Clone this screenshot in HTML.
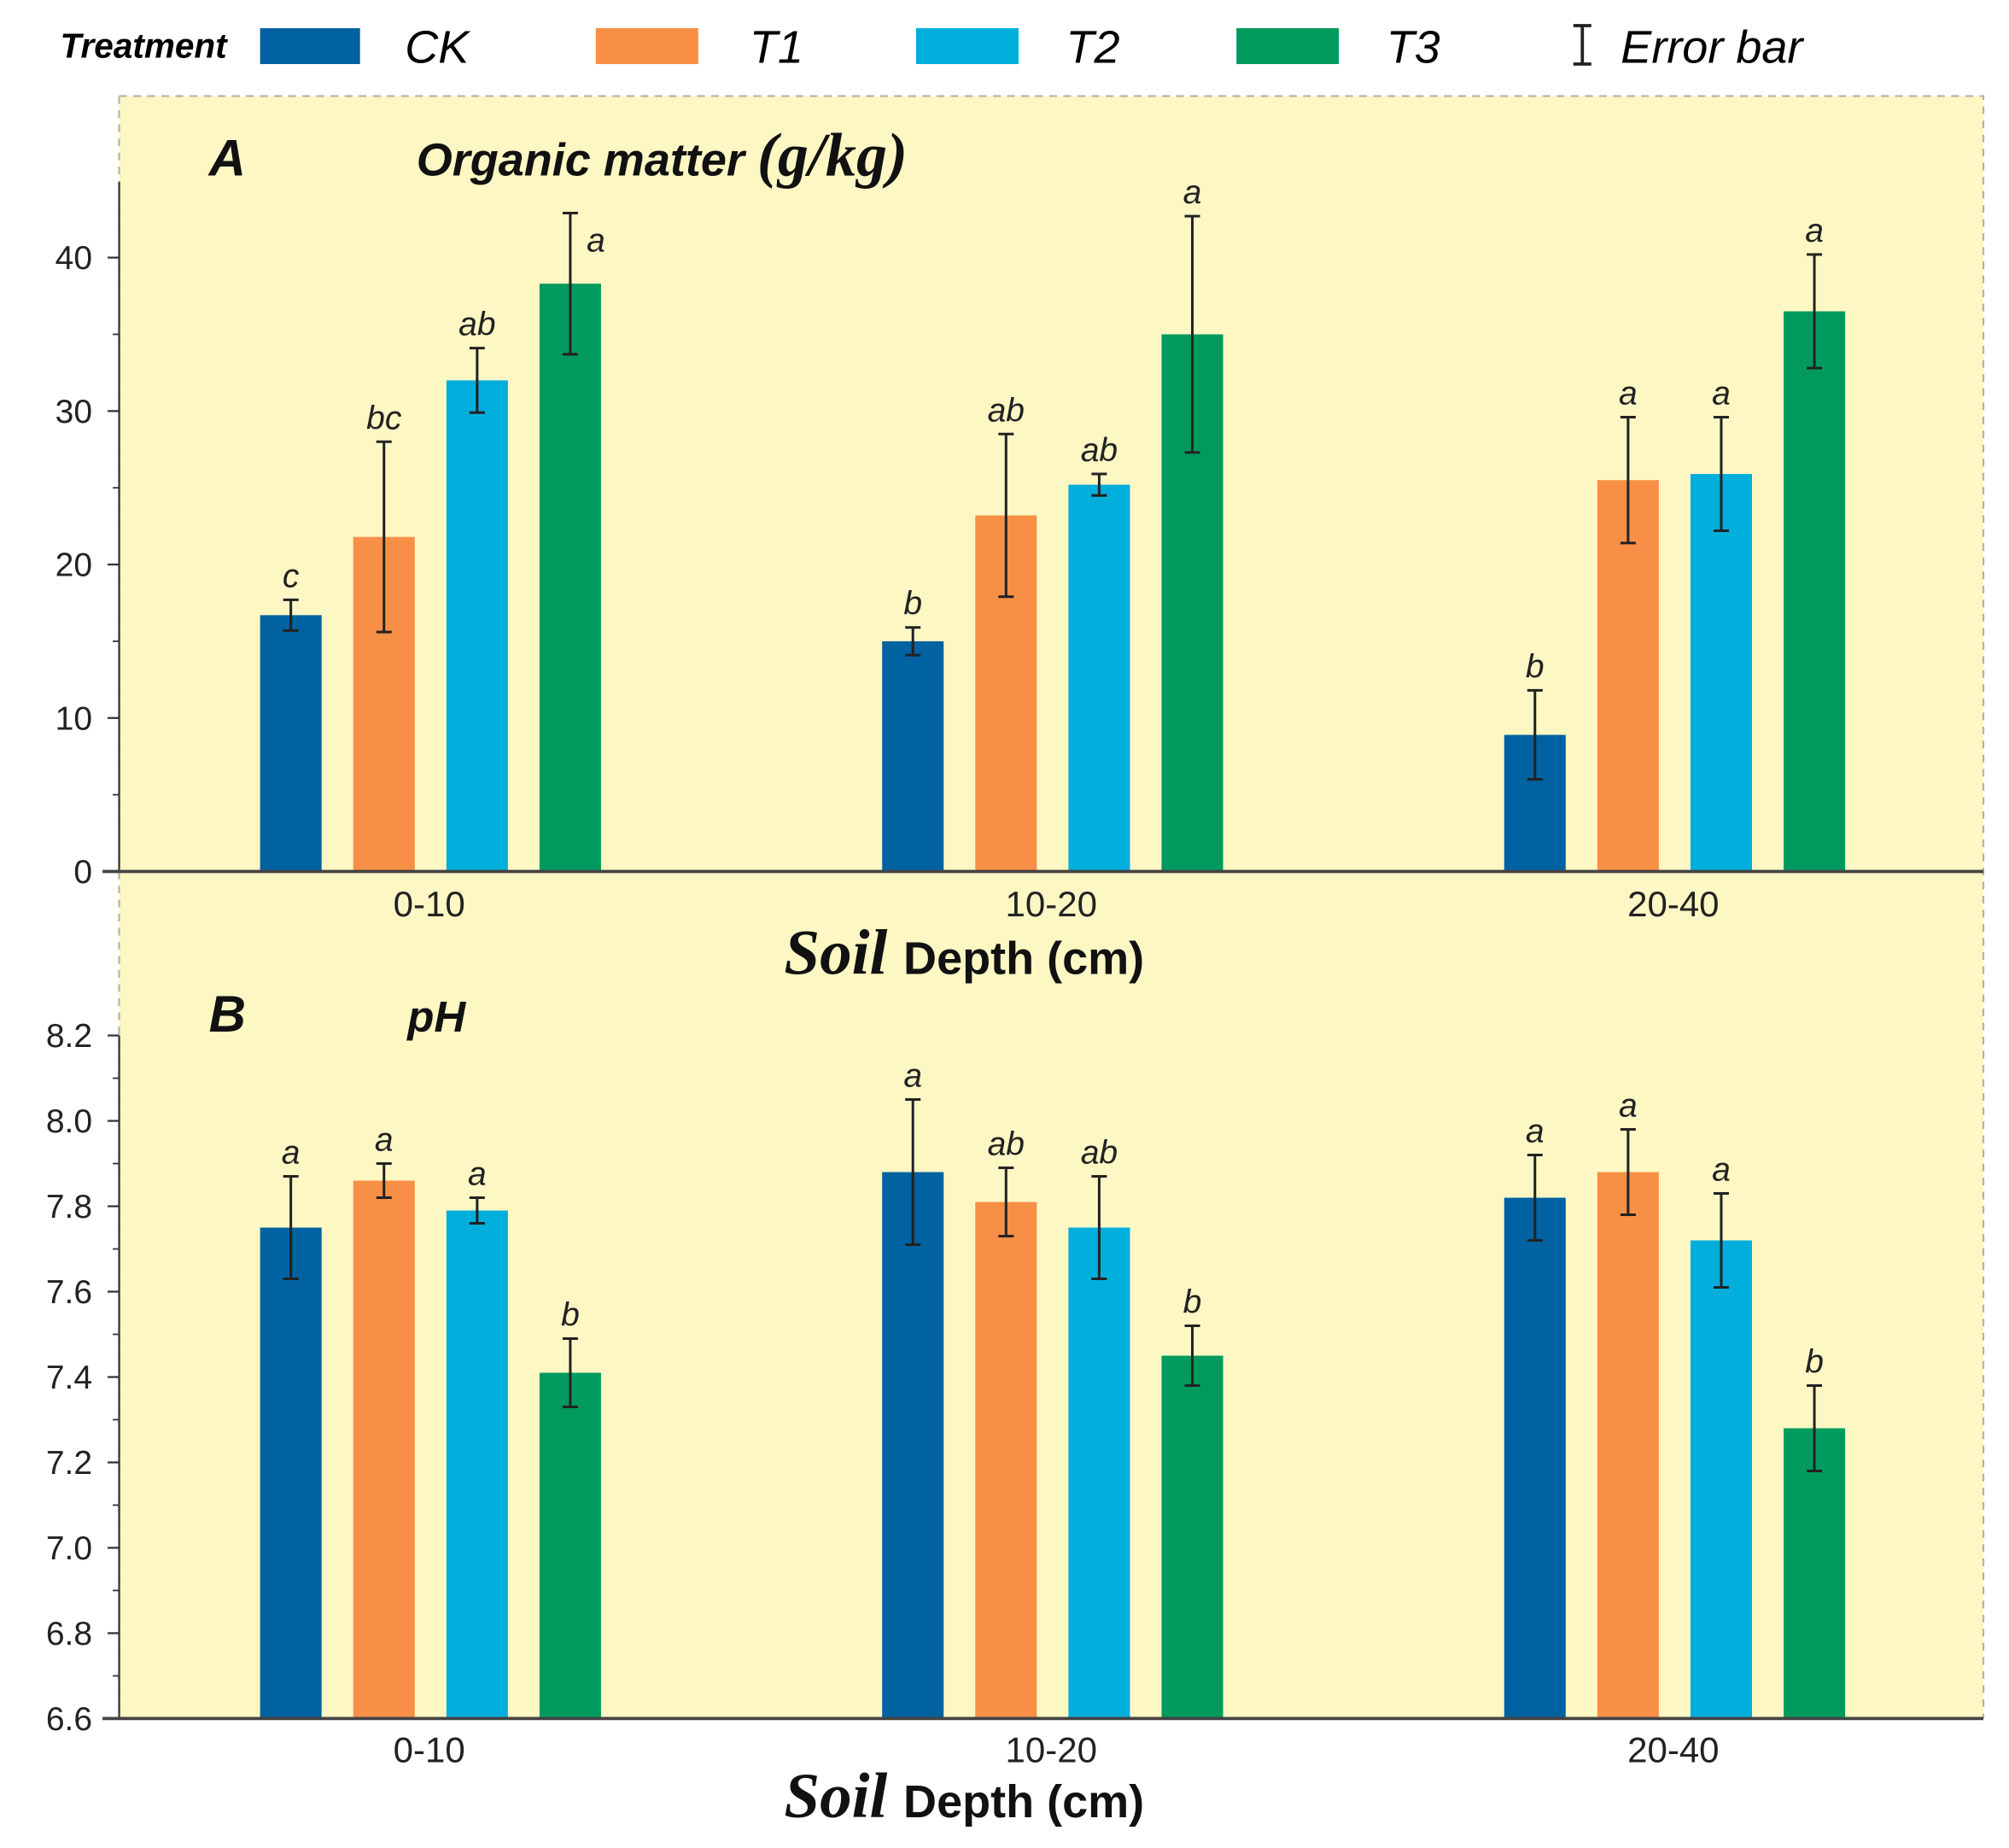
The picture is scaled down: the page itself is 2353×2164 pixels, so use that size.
<!DOCTYPE html>
<html><head><meta charset="utf-8"><style>
html,body{margin:0;padding:0;background:#fff;}
svg{display:block;}
text{font-family:"Liberation Sans",sans-serif;}
</style></head><body>
<svg id="chart" width="2353" height="2164" viewBox="0 0 1568 1442" preserveAspectRatio="none" xmlns="http://www.w3.org/2000/svg">
<rect x="93" y="75" width="1455" height="1266" fill="#fdf7c4"/>
<path d="M93 75 H1548 V1341 M93 75 V1341" fill="none" stroke="#b9b4a0" stroke-width="1.5" stroke-dasharray="6,5"/>
<g>
<text x="47" y="45" font-family="Liberation Serif,serif" font-style="italic" font-weight="bold" font-size="27">Treatment</text>
<rect x="203" y="22" width="78" height="28" fill="#0062a0"/>
<text x="316" y="49" font-style="italic" font-size="36">CK</text>
<rect x="465" y="22" width="80" height="28" fill="#f79046"/>
<text x="585" y="49" font-style="italic" font-size="36">T1</text>
<rect x="715" y="22" width="80" height="28" fill="#00aedc"/>
<text x="832" y="49" font-style="italic" font-size="36">T2</text>
<rect x="965" y="22" width="80" height="28" fill="#009a5e"/>
<text x="1082" y="49" font-style="italic" font-size="36">T3</text>
<path d="M1228 20H1242M1235 20V50M1228 50H1242" stroke="#222" stroke-width="2.5" fill="none"/>
<text x="1265" y="49" font-style="italic" font-size="36">Error bar</text>
</g>
<g id="panelA"></g>
<g id="panelB"></g>
</svg>
<script>
const categories = ["0-10", "10-20", "20-40"];
const series = ["CK", "T1", "T2", "T3"];
const colors = ["#0062a0", "#f79046", "#00aedc", "#009a5e"];
const omCK = [16.7, 15.0, 8.9];
const omT1 = [21.8, 23.2, 25.5];
const omT2 = [32.0, 25.2, 25.9];
const omT3 = [38.3, 35.0, 36.5];
const omErrCK = [1.0, 0.9, 2.9];
const omErrT1 = [6.2, 5.3, 4.1];
const omErrT2 = [2.1, 0.7, 3.7];
const omErrT3 = [4.6, 7.7, 3.7];
const omLetters = [["c","b","b"],["bc","ab","a"],["ab","ab","a"],["a","a","a"]];
const omTicks = [0, 10, 20, 30, 40];
const phCK = [7.75, 7.88, 7.82];
const phT1 = [7.86, 7.81, 7.88];
const phT2 = [7.79, 7.75, 7.72];
const phT3 = [7.41, 7.45, 7.28];
const phErrCK = [0.12, 0.17, 0.10];
const phErrT1 = [0.04, 0.08, 0.10];
const phErrT2 = [0.03, 0.12, 0.11];
const phErrT3 = [0.08, 0.07, 0.10];
const phLetters = [["a","a","a"],["a","ab","a"],["a","ab","a"],["b","b","b"]];
const phTicks = [6.6, 6.8, 7.0, 7.2, 7.4, 7.6, 7.8, 8.0, 8.2];

const NS = "http://www.w3.org/2000/svg";
function mk(parent, tag, attrs, txt) {
  const e = document.createElementNS(NS, tag);
  for (const k in attrs) e.setAttribute(k, attrs[k]);
  if (txt !== undefined) e.textContent = txt;
  parent.appendChild(e);
  return e;
}
function xCenter(i) { return 335 + i * 485.5; }
function barX(i, s) { return xCenter(i) - 132 + s * 72.7; }

function drawPanel(g, vals, errs, letters, ticks, minorStep, yMin, yMax, yTop, yBot, fmt, axisTop, titleLetter, titleParts, titleY, xLabelY, soilY, sideLetter) {
  const y = v => yBot - (v - yMin) / (yMax - yMin) * (yBot - yTop);
  const ax = mk(g, "line", {x1: 93, y1: axisTop, x2: 93, y2: yBot, stroke: "#333", "stroke-width": 1.5});
  
  
  for (let v = yMin; v <= yMax + 1e-9; v += minorStep) {
    const mt = mk(g, "line", {x1: 88, y1: y(v), x2: 93, y2: y(v), stroke: "#333", "stroke-width": 1.2});
    
    
  }
  ticks.forEach(t => {
    const tk = mk(g, "line", {x1: 84, y1: y(t), x2: 93, y2: y(t), stroke: "#333", "stroke-width": 1.5});
    
    
    const tl = mk(g, "text", {x: 72, y: y(t) + 9, "text-anchor": "end", "font-size": 26, fill: "#222"}, fmt(t));
    
    
  });
  vals.forEach((sv, s) => {
    sv.forEach((v, i) => {
      const x = barX(i, s);
      const r = mk(g, "rect", {x: x, y: y(v), width: 48, height: yBot - y(v), fill: colors[s]});
      
      
      const cx = x + 24, hi = y(v + errs[s][i]), lo = y(v - errs[s][i]);
      const eb = mk(g, "path", {d: `M${cx} ${hi}V${lo}M${cx-6} ${hi}H${cx+6}M${cx-6} ${lo}H${cx+6}`, stroke: "#222", "stroke-width": 2, fill: "none"});
      
      
      const side = sideLetter && sideLetter[0] === s && sideLetter[1] === i;
      const lt = mk(g, "text", {x: side ? cx + 20 : cx, y: side ? hi + 30 : hi - 10, "text-anchor": "middle", "font-size": 26, "font-style": "italic", fill: "#222"}, letters[s][i]);
      
      
    });
  });
  const xa = mk(g, "line", {x1: 80, y1: yBot, x2: 1548, y2: yBot, stroke: "#444", "stroke-width": 2.5});
  
  
  categories.forEach((c, i) => {
    const xl = mk(g, "text", {x: xCenter(i), y: xLabelY, "text-anchor": "middle", "font-size": 28, fill: "#222"}, c);
    
    
  });
  const xt = mk(g, "text", {x: 612, y: soilY, fill: "#111"});
  
  
  mk(xt, "tspan", {"font-family": "Liberation Serif,serif", "font-style": "italic", "font-weight": "bold", "font-size": 50}, "Soil ");
  mk(xt, "tspan", {"font-weight": "bold", "font-size": 36}, "Depth (cm)");
  const pl = mk(g, "text", {x: 163, y: titleY, "font-size": 40, "font-weight": "bold", "font-style": "italic", fill: "#111"}, titleLetter);
  
  
  const tt = mk(g, "text", {x: titleParts.x, y: titleY, fill: "#111"});
  
  
  titleParts.parts.forEach(p => mk(tt, "tspan", p.a, p.t));
}
drawPanel(document.getElementById("panelA"), [omCK, omT1, omT2, omT3], [omErrCK, omErrT1, omErrT2, omErrT3], omLetters, omTicks, 5, 0, 40, 201, 680, v => String(v), 142, "A",
  {x: 325, parts: [{a: {"font-weight": "bold", "font-style": "italic", "font-size": 36}, t: "Organic matter "}, {a: {"font-family": "Liberation Serif,serif", "font-weight": "bold", "font-style": "italic", "font-size": 48}, t: "(g/kg)"}]},
  137, 715, 760, [3, 0]);
drawPanel(document.getElementById("panelB"), [phCK, phT1, phT2, phT3], [phErrCK, phErrT1, phErrT2, phErrT3], phLetters, phTicks, 0.1, 6.6, 8.2, 808, 1341, v => v.toFixed(1), 808, "B",
  {x: 318, parts: [{a: {"font-weight": "bold", "font-style": "italic", "font-size": 34}, t: "pH"}]},
  805, 1375, 1418, null);
</script>
</body></html>
